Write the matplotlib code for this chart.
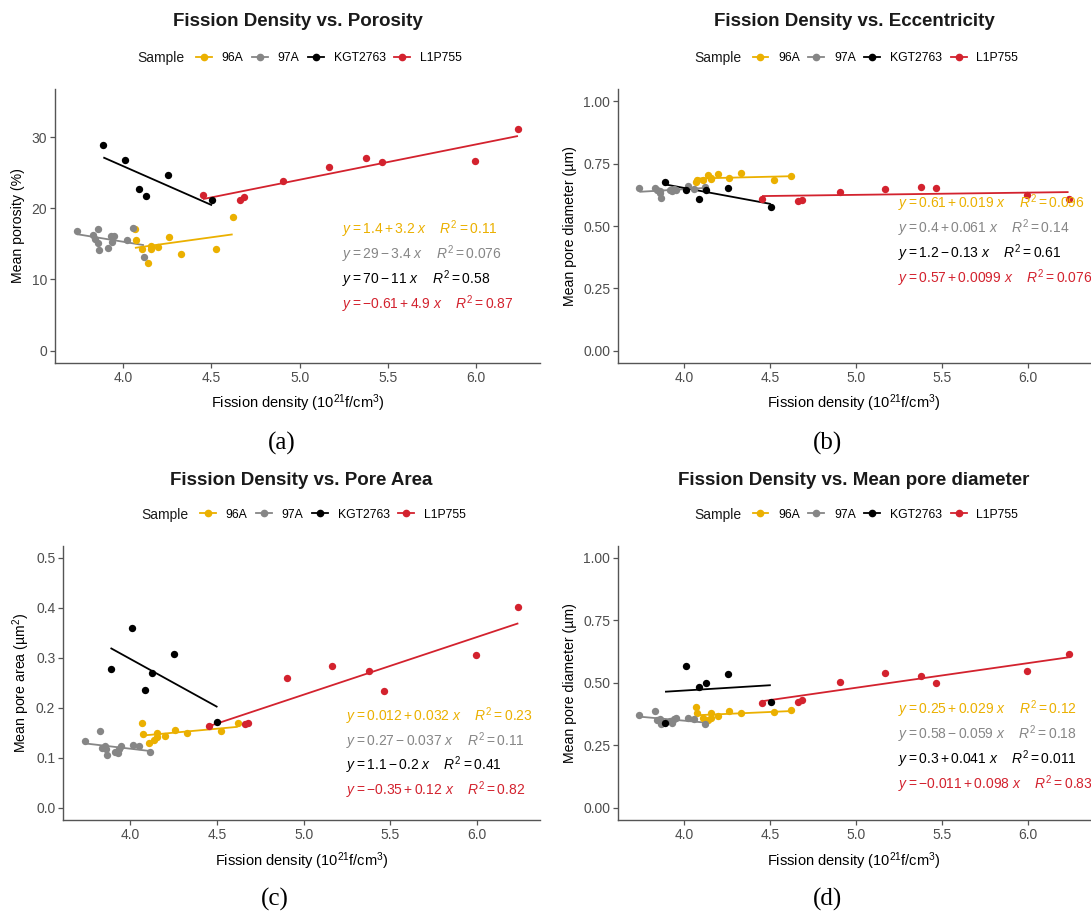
import numpy as np
import matplotlib
matplotlib.use("Agg")
import matplotlib.pyplot as plt
from matplotlib.lines import Line2D

plt.rcParams['font.family'] = ['Liberation Sans', 'DejaVu Sans']
plt.rcParams['mathtext.fontset'] = 'custom'
plt.rcParams['mathtext.rm'] = 'Liberation Sans'
plt.rcParams['mathtext.it'] = 'Liberation Sans:italic'
plt.rcParams['mathtext.bf'] = 'Liberation Sans:bold'

W, H = 1091, 913

samples = ["96A", "97A", "KGT2763", "L1P755"]
colors = ["#EBB000", "#868686", "#000000", "#D3222E"]

# Fission density (10^21 f/cm3) per sample
fd_96A = [4.066, 4.072, 4.107, 4.138, 4.156, 4.156, 4.198, 4.260, 4.328, 4.524, 4.620]
fd_97A = [3.738, 3.827, 3.840, 3.855, 3.859, 3.864, 3.915, 3.930, 3.938, 3.949, 4.019, 4.053, 4.117]
fd_KGT = [3.887, 4.011, 4.087, 4.128, 4.251, 4.503]
fd_L1P = [4.452, 4.661, 4.682, 4.904, 5.166, 5.377, 5.465, 5.994, 6.237]

# (a) Mean porosity (%)
por_96A = [17.05, 15.49, 14.32, 12.25, 14.69, 14.27, 14.60, 15.96, 13.56, 14.22, 18.79]
por_97A = [16.81, 16.24, 15.73, 17.05, 15.17, 14.18, 14.46, 16.10, 15.31, 16.10, 15.54, 17.28, 13.19]
por_KGT = [28.95, 26.79, 22.70, 21.66, 24.72, 21.14]
por_L1P = [21.85, 21.19, 21.61, 23.83, 25.76, 27.03, 26.56, 26.65, 31.17]

# (b) Eccentricity panel values
ecc_96A = [0.676, 0.684, 0.684, 0.706, 0.692, 0.690, 0.708, 0.694, 0.712, 0.683, 0.700]
ecc_97A = [0.653, 0.652, 0.645, 0.633, 0.640, 0.612, 0.643, 0.640, 0.648, 0.645, 0.662, 0.650, 0.655]
ecc_KGT = [0.676, 0.645, 0.608, 0.645, 0.653, 0.578]
ecc_L1P = [0.609, 0.602, 0.605, 0.635, 0.649, 0.656, 0.653, 0.625, 0.609]

# (c) Mean pore area (um^2)
area_96A = [0.169, 0.147, 0.130, 0.136, 0.149, 0.142, 0.144, 0.156, 0.149, 0.154, 0.169]
area_97A = [0.133, 0.153, 0.120, 0.123, 0.117, 0.106, 0.112, 0.110, 0.118, 0.124, 0.126, 0.123, 0.112]
area_KGT = [0.278, 0.360, 0.236, 0.269, 0.307, 0.171]
area_L1P = [0.163, 0.167, 0.170, 0.260, 0.284, 0.274, 0.234, 0.305, 0.402]

# (d) Mean pore diameter (um)
diam_96A = [0.401, 0.377, 0.357, 0.349, 0.378, 0.360, 0.365, 0.386, 0.377, 0.384, 0.390]
diam_97A = [0.369, 0.388, 0.350, 0.356, 0.345, 0.336, 0.347, 0.340, 0.355, 0.360, 0.358, 0.354, 0.333]
diam_KGT = [0.340, 0.566, 0.483, 0.501, 0.537, 0.423]
diam_L1P = [0.420, 0.424, 0.431, 0.503, 0.540, 0.529, 0.501, 0.548, 0.615]

eq_a = [("1.4 + 3.2", "0.11"), ("29 - 3.4", "0.076"), ("70 - 11", "0.58"), ("-0.61 + 4.9", "0.87")]
eq_b = [("0.61 + 0.019", "0.096"), ("0.4 + 0.061", "0.14"), ("1.2 - 0.13", "0.61"), ("0.57 + 0.0099", "0.076")]
eq_c = [("0.012 + 0.032", "0.23"), ("0.27 - 0.037", "0.11"), ("1.1 - 0.2", "0.41"), ("-0.35 + 0.12", "0.82")]
eq_d = [("0.25 + 0.029", "0.12"), ("0.58 - 0.059", "0.18"), ("0.3 + 0.041", "0.011"), ("-0.011 + 0.098", "0.83")]

titles = ["Fission Density vs. Porosity", "Fission Density vs. Eccentricity",
          "Fission Density vs. Pore Area", "Fission Density vs. Mean pore diameter"]
ylabels = ["Mean porosity (%)", "Mean pore diameter (µm)",
           r"Mean pore area (µm$^{2}$)", "Mean pore diameter (µm)"]
xlabel = r"Fission density (10$^{21}$f/cm$^{3}$)"
captions = ["(a)", "(b)", "(c)", "(d)"]

yticks_a = [0, 10, 20, 30]
yticks_b = [0.00, 0.25, 0.50, 0.75, 1.00]
yticks_c = [0.0, 0.1, 0.2, 0.3, 0.4, 0.5]
yticks_d = [0.00, 0.25, 0.50, 0.75, 1.00]

fig = plt.figure(figsize=(W / 100, H / 100), dpi=100)
fig.patch.set_facecolor("white")


def fx(x):
    return x / W


def fy(y):
    return 1 - y / H


xs_all = [fd_96A, fd_97A, fd_KGT, fd_L1P]
allx = np.concatenate([np.array(v) for v in xs_all])
xr = allx.max() - allx.min()
xlim = (allx.min() - 0.05 * xr, allx.max() + 0.05 * xr)

panels = [
    dict(rect=(55, 89, 540, 363), ys=[por_96A, por_97A, por_KGT, por_L1P], lim=(0, 35),
         ticks=yticks_a, fmt="{:.0f}", eqs=eq_a, eq_x=342, eq_y=229, eq_dy=25,
         cap_xy=(282, 443), ylab_x=25, xlab_y=392, title_y=22, leg_y=58),
    dict(rect=(618, 89, 1090, 363), ys=[ecc_96A, ecc_97A, ecc_KGT, ecc_L1P], lim=(0, 1),
         ticks=yticks_b, fmt="{:.2f}", eqs=eq_b, eq_x=898, eq_y=203, eq_dy=25,
         cap_xy=(828, 443), ylab_x=577, xlab_y=392, title_y=22, leg_y=58),
    dict(rect=(63, 545.5, 540, 820), ys=[area_96A, area_97A, area_KGT, area_L1P], lim=(0, 0.5),
         ticks=yticks_c, fmt="{:.1f}", eqs=eq_c, eq_x=346, eq_y=716, eq_dy=24.7,
         cap_xy=(275, 899), ylab_x=32, xlab_y=850, title_y=480, leg_y=514.5),
    dict(rect=(618, 545.5, 1090, 820), ys=[diam_96A, diam_97A, diam_KGT, diam_L1P], lim=(0, 1),
         ticks=yticks_d, fmt="{:.2f}", eqs=eq_d, eq_x=898, eq_y=709.5, eq_dy=24.8,
         cap_xy=(828, 899), ylab_x=577, xlab_y=850, title_y=480, leg_y=514.5),
]

axis_col = "#555555"
tick_lab_col = "#4D4D4D"

for i, p in enumerate(panels):
    l, t, r, b = p["rect"]
    ax = fig.add_axes([fx(l), fy(b), (r - l) / W, (b - t) / H])
    for k in range(4):
        x = np.array(xs_all[k])
        y = np.array(p["ys"][k])
        ax.scatter(x, y, s=28, color=colors[k], zorder=3, linewidths=0)
        coef = np.polyfit(x, y, 1)
        xx = np.array([x.min(), x.max()])
        ax.plot(xx, np.polyval(coef, xx), color=colors[k], lw=1.3, zorder=2,
                solid_capstyle="butt")
    lo, hi = p["lim"]
    ax.set_xlim(*xlim)
    ax.set_ylim(lo - 0.05 * (hi - lo), hi + 0.05 * (hi - lo))
    ax.set_xticks([4.0, 4.5, 5.0, 5.5, 6.0])
    ax.set_xticklabels(["4.0", "4.5", "5.0", "5.5", "6.0"])
    ax.set_yticks(p["ticks"])
    ax.set_yticklabels([p["fmt"].format(v) for v in p["ticks"]])
    for s in ["top", "right"]:
        ax.spines[s].set_visible(False)
    for s in ["left", "bottom"]:
        ax.spines[s].set_color(axis_col)
        ax.spines[s].set_linewidth(1.0)
    ax.tick_params(axis="both", length=3.5, width=0.9, color=axis_col,
                   labelsize=10, labelcolor=tick_lab_col, pad=2)
    ax.set_xlabel(xlabel, fontsize=10.5)
    ax.xaxis.set_label_coords(0.5, (b - p["xlab_y"]) / (b - t))
    ax.set_ylabel(ylabels[i], fontsize=10.2)
    ax.yaxis.set_label_coords((p["ylab_x"] - l) / (r - l), 0.5)

    # title
    cx = (l + r) / 2
    fig.text(fx(cx), fy(p["title_y"]), titles[i], ha="center", va="center",
             fontsize=13.5, fontweight="bold", color="#1a1a1a")

    # legend
    off = cx - 297.5
    fig.text(fx(137.7 + off), fy(p["leg_y"]), "Sample", ha="left", va="center",
             fontsize=10, color="#1a1a1a")
    handles = [Line2D([], [], color=c, marker="o", markersize=4.5, lw=1.3) for c in colors]
    fig.legend(handles, samples, loc="center left",
               bbox_to_anchor=(fx(196 + off), fy(p["leg_y"])), ncol=4, frameon=False,
               fontsize=8.8, handlelength=1.3, handletextpad=0.8, columnspacing=0.7,
               borderpad=0, borderaxespad=0)

    # equations
    for k, (eq, r2) in enumerate(p["eqs"]):
        s = r"$y = " + eq + r"\ x\quad\ R^2 = " + r2 + "$"
        fig.text(fx(p["eq_x"]), fy(p["eq_y"] + k * p["eq_dy"]), s, ha="left",
                 va="center", fontsize=10, color=colors[k])

    fig.text(fx(p["cap_xy"][0]), fy(p["cap_xy"][1]), captions[i], ha="center",
             va="center", fontsize=18, family="Liberation Serif")

fig.savefig("out.png", dpi=100)
